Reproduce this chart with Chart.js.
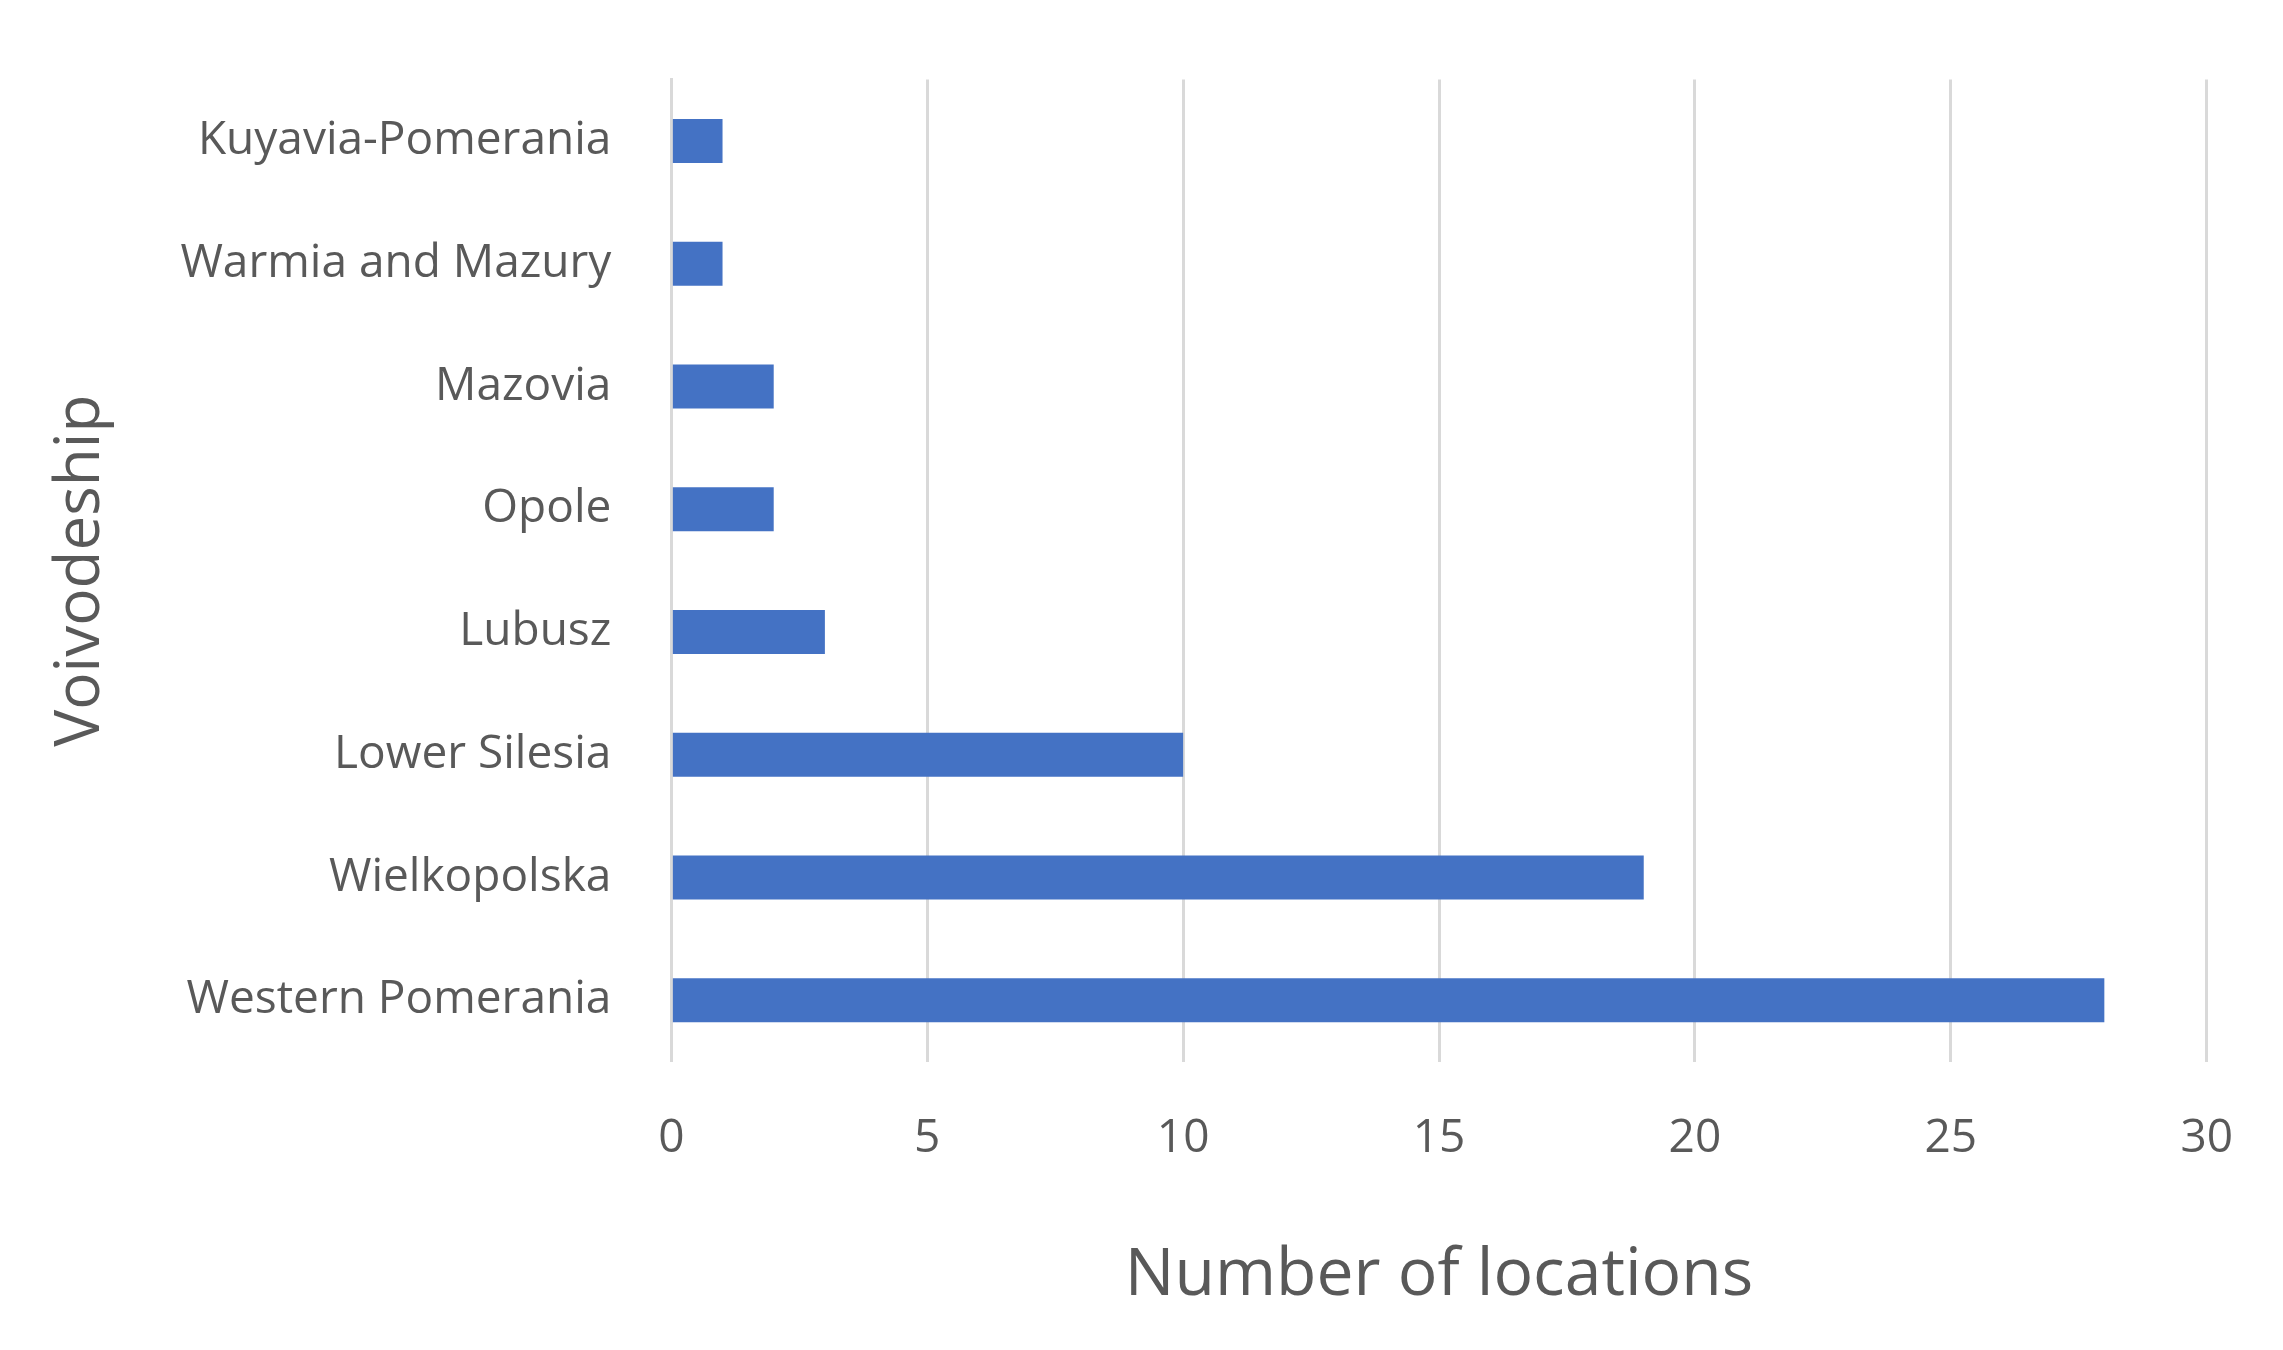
<!DOCTYPE html>
<html><head><meta charset="utf-8">
<script src="https://cdn.jsdelivr.net/npm/chart.js@4"></script>
<style>html,body{margin:0;padding:0;background:#fff}#w{width:2283px;height:1350px}</style>
</head><body><div id="w"><canvas id="c"></canvas></div>
<script>
const categories = ["Kuyavia-Pomerania","Warmia and Mazury","Mazovia","Opole","Lubusz","Lower Silesia","Wielkopolska","Western Pomerania"];
const values = [1,1,2,2,3,10,19,28];
const xTitle = "Number of locations";
const yTitle = "Voivodeship";
const font = "'Liberation Sans Narrow', 'Open Sans', sans-serif";
new Chart(document.getElementById('c'), {
  type: 'bar',
  data: { labels: categories, datasets: [{ data: values, backgroundColor: '#4472C4', barPercentage: 0.36, categoryPercentage: 1 }] },
  options: {
    indexAxis: 'y', responsive: true, maintainAspectRatio: false, animation: false,
    layout: { padding: { top: 56, right: 60, bottom: 30, left: 40 } },
    plugins: { legend: { display: false }, tooltip: { enabled: false } },
    scales: {
      x: { min: 0, max: 30, ticks: { stepSize: 5, color: '#595959', font: { family: font, size: 46 }, padding: 50 },
           grid: { color: '#d9d9d9', lineWidth: 3, drawTicks: false }, border: { display: false },
           title: { display: true, text: xTitle, color: '#595959', font: { family: font, size: 66 }, padding: { top: 20 } } },
      y: { ticks: { color: '#595959', font: { family: font, size: 46 }, padding: 52 },
           grid: { display: false }, border: { display: true, color: '#d9d9d9', width: 3 },
           title: { display: true, text: yTitle, color: '#595959', font: { family: font, size: 62 }, padding: { bottom: 10 } } }
    }
  }
});
</script></body></html>
